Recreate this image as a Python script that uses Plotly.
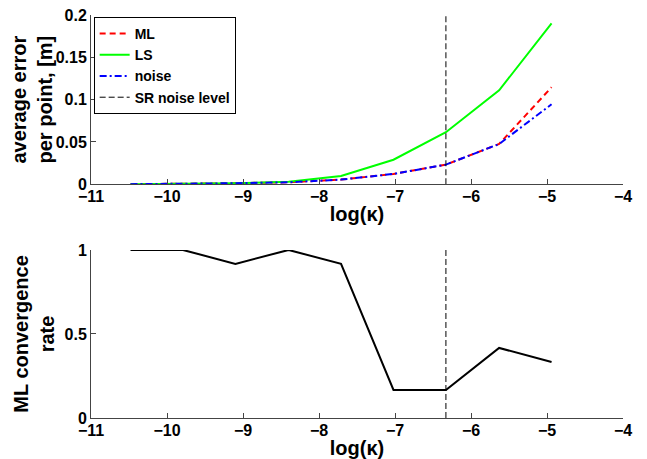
import plotly.graph_objects as go
from plotly.subplots import make_subplots

log_kappa = [-10.48, -9.79, -9.10, -8.40, -7.71, -7.02, -6.33, -5.63, -4.94]
err_ml = [0.0001, 0.0004, 0.0012, 0.0024, 0.0055, 0.0122, 0.0232, 0.0476, 0.1146]
err_ls = [0.0001, 0.0005, 0.0012, 0.0030, 0.0098, 0.0290, 0.0615, 0.1110, 0.1900]
err_noise = [0.0001, 0.0004, 0.0012, 0.0024, 0.0055, 0.0122, 0.0232, 0.0476, 0.0945]
conv_rate = [1.0, 1.0, 0.917, 1.0, 0.917, 0.167, 0.167, 0.417, 0.333]
sr_noise_level = -6.33
top_range = [0, 0.2]
bot_range = [0, 1]
x_ticks = [-11, -10, -9, -8, -7, -6, -5, -4]

FONT = "Liberation Sans"

fig = make_subplots(rows=2, cols=1)

fig.add_trace(go.Scatter(x=log_kappa, y=err_ml, mode="lines", name="ML",
                         line=dict(color="#ff0000", width=2, dash="6px,4px")), 1, 1)
fig.add_trace(go.Scatter(x=log_kappa, y=err_ls, mode="lines", name="LS",
                         line=dict(color="#00ff00", width=2)), 1, 1)
fig.add_trace(go.Scatter(x=log_kappa, y=err_noise, mode="lines", name="noise",
                         line=dict(color="#0000ff", width=2, dash="7px,3px,2px,3px")), 1, 1)
fig.add_trace(go.Scatter(x=[sr_noise_level, sr_noise_level], y=top_range, mode="lines",
                         name="SR noise level",
                         line=dict(color="black", width=1, dash="6px,3px")), 1, 1)

fig.add_trace(go.Scatter(x=log_kappa, y=conv_rate, mode="lines", showlegend=False,
                         line=dict(color="black", width=2)), 2, 1)
fig.add_trace(go.Scatter(x=[sr_noise_level, sr_noise_level], y=bot_range, mode="lines",
                         showlegend=False,
                         line=dict(color="black", width=1, dash="6px,3px")), 2, 1)

tickfont = dict(family=FONT, size=16, color="black", weight="bold")
xtitlefont = dict(family=FONT, size=20, color="black", weight="bold")
ytitlefont = dict(family=FONT, size=20, color="black", weight="bold")

fig.update_xaxes(range=[-11, -4], tickmode="array", tickvals=x_ticks,
                 ticks="inside", ticklen=5, tickcolor="#444", showline=True, linecolor="#444",
                 linewidth=1, showgrid=False, zeroline=False, tickfont=tickfont,
                 automargin=False, ticklabelstandoff=-2, ticklabeloverflow="allow",
                 title=dict(text="log(κ)", font=xtitlefont, standoff=2))
fig.update_yaxes(ticks="inside", ticklen=5, tickcolor="#444", showline=True, linecolor="#444",
                 linewidth=1, showgrid=False, zeroline=False, tickfont=tickfont,
                 automargin=False, ticklabelstandoff=0, ticklabeloverflow="allow")

fig.update_yaxes(range=top_range, tickvals=[0, 0.05, 0.1, 0.15, 0.2],
                 ticktext=["0", "0.05", "0.1", "0.15", "0.2"],
                 title=dict(text="average error<br>per point, [m]", font=ytitlefont, standoff=4),
                 domain=[0.58, 1.0], row=1, col=1)
fig.update_yaxes(range=bot_range, tickvals=[0, 0.5, 1], ticktext=["0", "0.5", "1"],
                 title=dict(text="ML convergence<br>rate", font=ytitlefont, standoff=4),
                 domain=[0.0, 0.417], row=2, col=1)

fig.update_layout(
    width=647, height=459,
    margin=dict(l=83, r=32, t=7, b=49),
    paper_bgcolor="white", plot_bgcolor="white",
    font=dict(family=FONT, color="black"),
    showlegend=True,
    legend=dict(x=0.005, y=0.995, xanchor="left", yanchor="top",
                bgcolor="white", bordercolor="black", borderwidth=1,
                font=dict(family=FONT, size=14, color="black", weight="bold"),
                tracegroupgap=0, itemwidth=30),
)

fig.write_html("out.html")
